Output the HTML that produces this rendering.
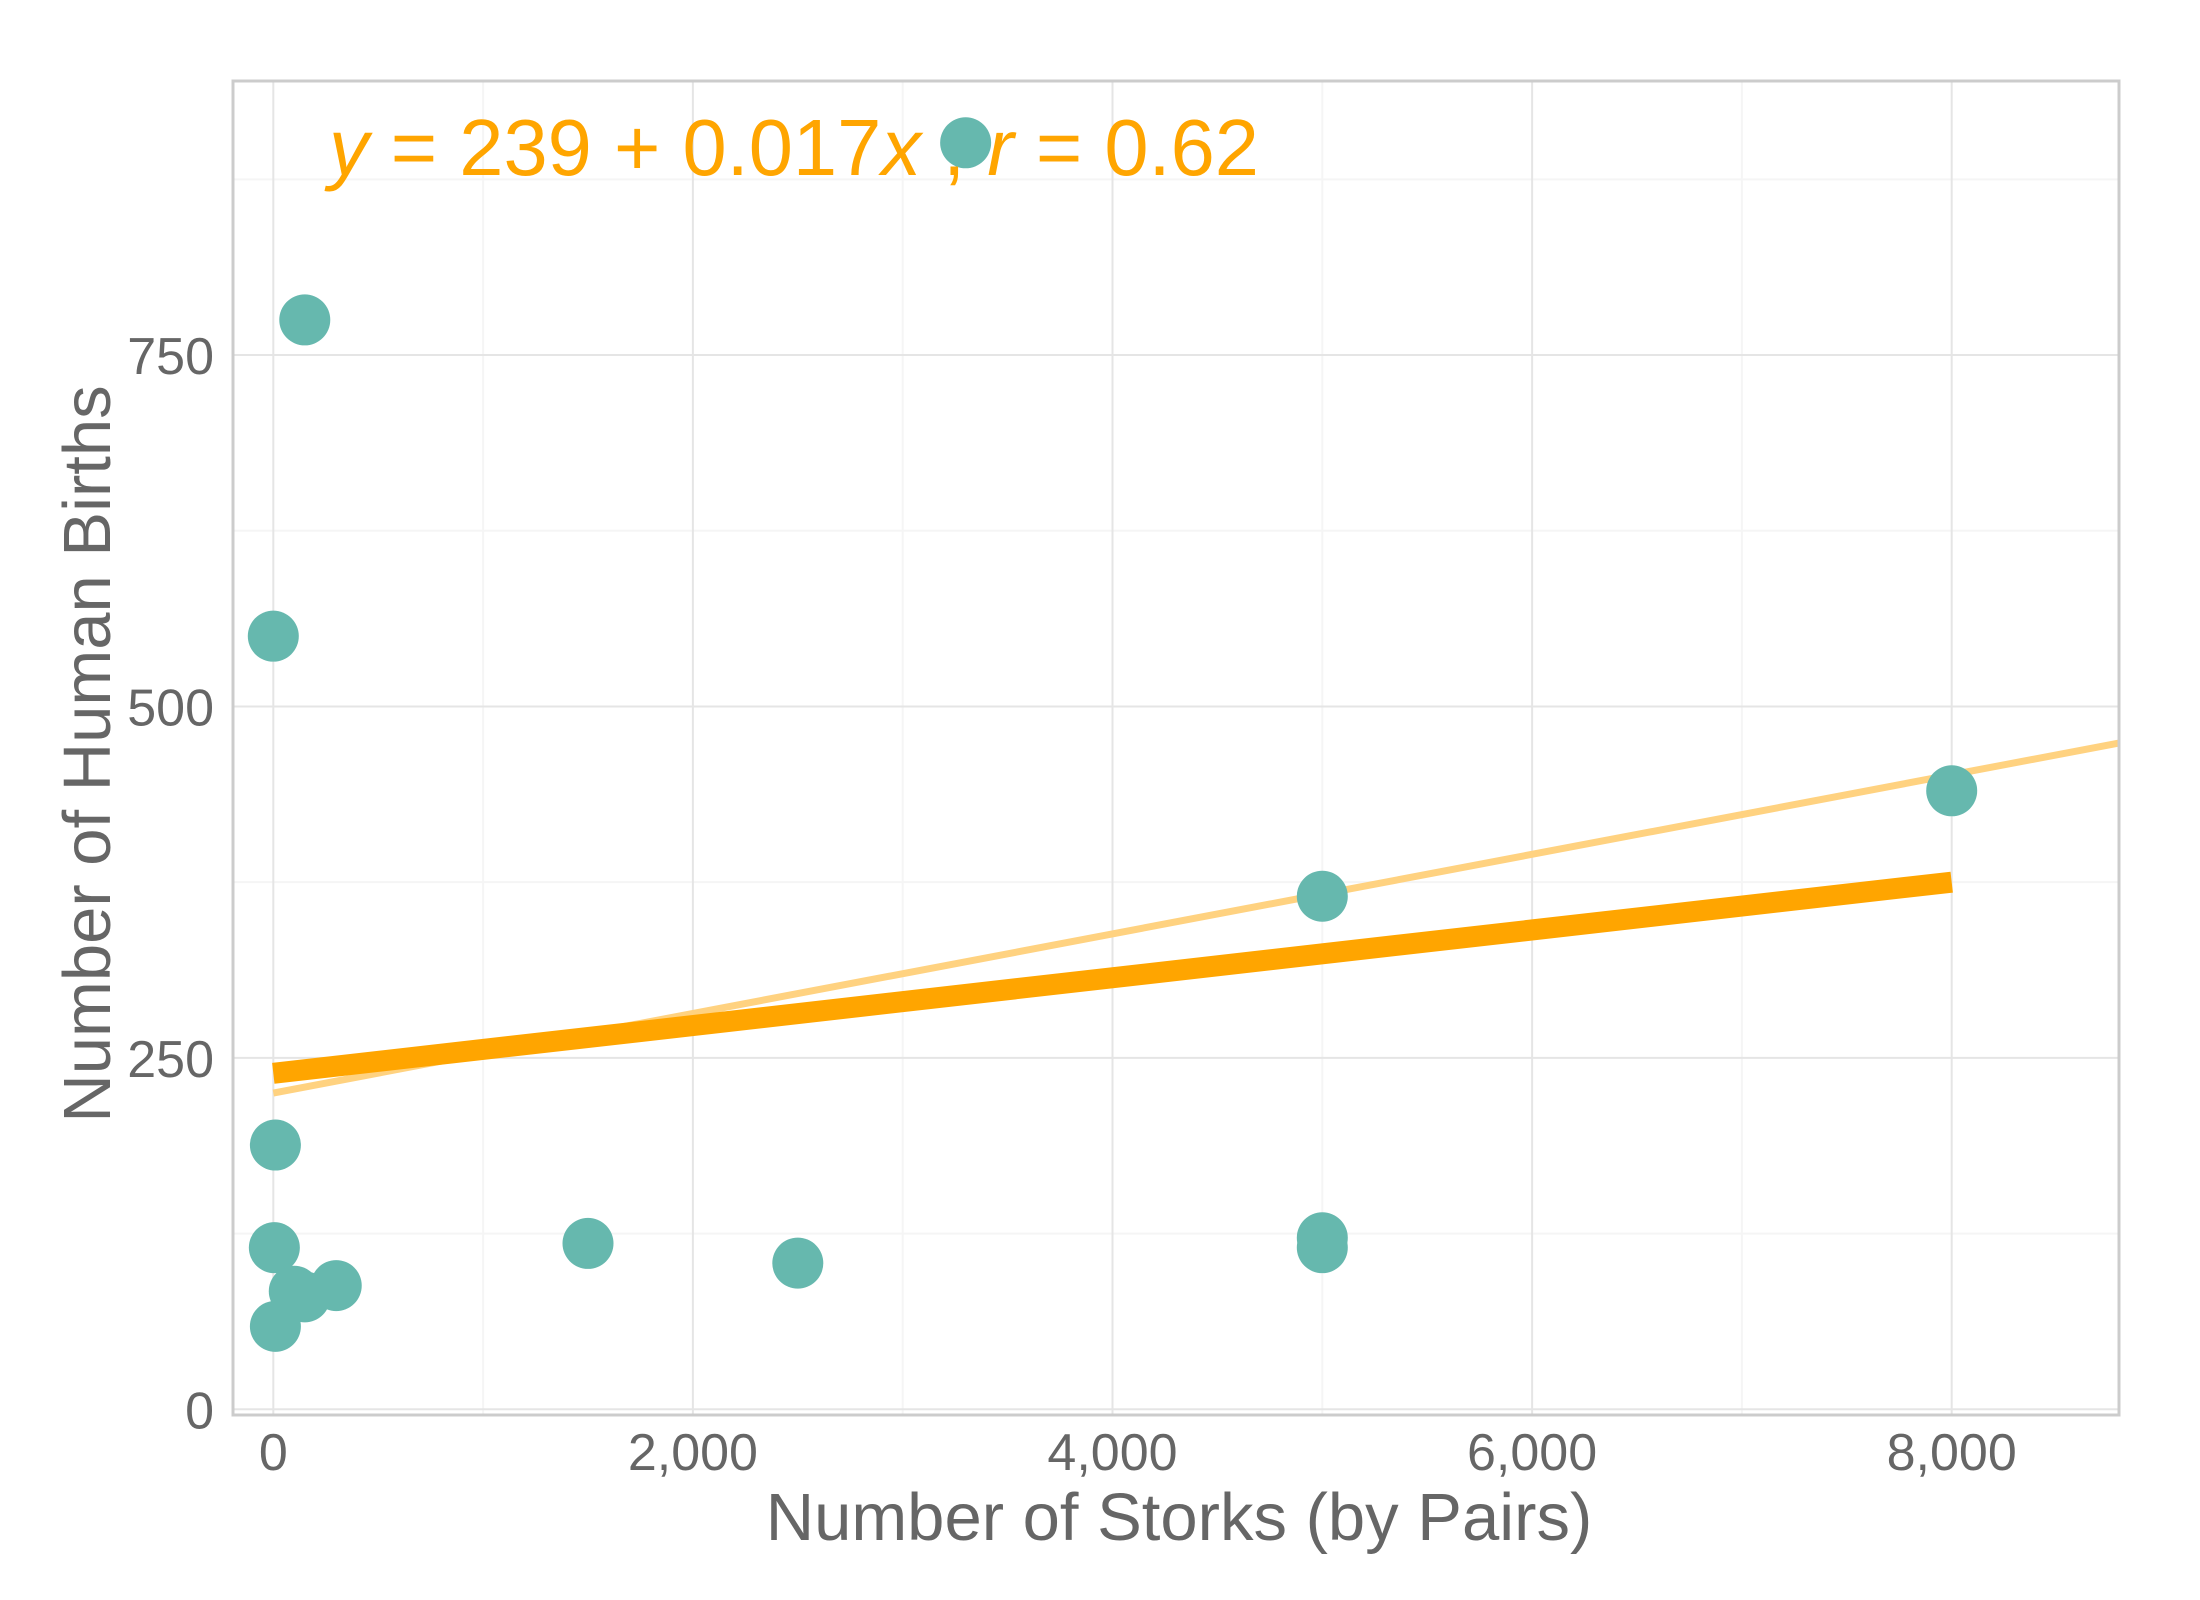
<!DOCTYPE html>
<html><head><meta charset="utf-8"><style>
html,body{margin:0;padding:0;background:#fff;}
svg{display:block;font-family:"Liberation Sans",sans-serif;}
</style></head><body>
<svg id="chart" width="2200" height="1600" viewBox="0 0 2200 1600" xmlns="http://www.w3.org/2000/svg">
<g id="grid"></g>
<g id="lines"></g>
<g id="points"></g>
<rect x="233" y="81" width="1886" height="1334" fill="none" stroke="#cccccc" stroke-width="3"/>
<g id="ticks"></g>
<text x="329" y="175" font-size="80" fill="#FFA500" textLength="930" lengthAdjust="spacingAndGlyphs"><tspan font-style="italic">y</tspan> = 239 + 0.017<tspan font-style="italic">x</tspan> ,  <tspan font-style="italic">r</tspan> = 0.62</text>
<text x="1179" y="1540" font-size="67" fill="#666666" text-anchor="middle">Number of Storks (by Pairs)</text>
<text transform="translate(110,754) rotate(-90)" font-size="67" fill="#666666" text-anchor="middle">Number of Human Births</text>
</svg>
<script>
const storks = [0, 150, 3300, 10, 5, 10, 100, 150, 300, 1500, 2500, 5000, 5000, 5000, 8000];
const births = [550, 775, 901, 188, 115, 59, 84, 80, 88, 118, 104, 122, 115, 365, 440];
const xTicks = [0, 2000, 4000, 6000, 8000];
const xTickLabels = ["0", "2,000", "4,000", "6,000", "8,000"];
const xMinor = [1000, 3000, 5000, 7000];
const yTicks = [0, 250, 500, 750];
const yTickLabels = ["0", "250", "500", "750"];
const yMinor = [125, 375, 625, 875];
const fitIntercept = 239, fitSlope = 0.017;
const lightIntercept = 225, lightSlope = 0.0283;
const X0 = 273.3, XS = 0.2098, Y0 = 1409.3, YS = 1.4057;
const XMIN = -193, XMAX = 8797;
function sx(v){return X0 + v*XS;}
function sy(v){return Y0 - v*YS;}
const NS = "http://www.w3.org/2000/svg";
function mk(tag, attrs, parent){const e=document.createElementNS(NS,tag);for(const k in attrs)e.setAttribute(k,attrs[k]);parent.appendChild(e);return e;}
const grid=document.getElementById('grid'), lines=document.getElementById('lines'), pts=document.getElementById('points'), ticks=document.getElementById('ticks');
xMinor.forEach(v=>{const l=mk('line',{x1:sx(v),x2:sx(v),y1:81,y2:1415,stroke:'#f5f5f5','stroke-width':2},grid);

});
yMinor.forEach(v=>{const l=mk('line',{x1:233,x2:2119,y1:sy(v),y2:sy(v),stroke:'#f5f5f5','stroke-width':2},grid);

});
xTicks.forEach((v,i)=>{const l=mk('line',{x1:sx(v),x2:sx(v),y1:81,y2:1415,stroke:'#e5e5e5','stroke-width':2},grid);


const t=mk('text',{x:sx(v),y:1470,'font-size':52,fill:'#666666','text-anchor':'middle'},ticks);t.textContent=xTickLabels[i];

});
yTicks.forEach((v,i)=>{const l=mk('line',{x1:233,x2:2119,y1:sy(v),y2:sy(v),stroke:'#e5e5e5','stroke-width':2},grid);


const t=mk('text',{x:214,y:sy(v)+19,'font-size':52,fill:'#666666','text-anchor':'end'},ticks);t.textContent=yTickLabels[i];

});
const ll=mk('line',{x1:sx(0),y1:sy(lightIntercept),x2:sx(XMAX),y2:sy(lightIntercept+lightSlope*XMAX),stroke:'#FFD280','stroke-width':7},lines);


const fl=mk('line',{x1:sx(0),y1:sy(fitIntercept),x2:sx(8000),y2:sy(fitIntercept+fitSlope*8000),stroke:'#FFA500','stroke-width':21},lines);


storks.forEach((v,i)=>{const c=mk('circle',{cx:sx(v),cy:sy(births[i]),r:25.5,fill:'#66B8AE'},pts);

});
</script>
</body></html>
